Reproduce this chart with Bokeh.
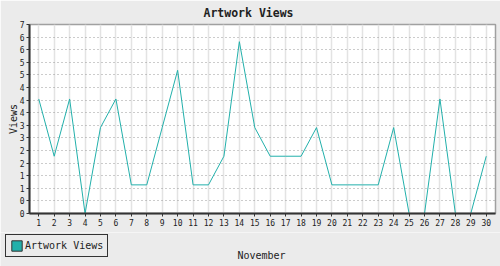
import numpy as np
from bokeh.plotting import figure
from bokeh.layouts import column, row
from bokeh.models import ColumnDataSource, FixedTicker, Legend, LegendItem, Label
from bokeh.embed import file_html
from bokeh.resources import INLINE

# ---- data ----
days = list(range(1, 31))
views = [4, 2, 4, 0, 3, 4, 1, 1, 3, 5, 1, 1, 2, 6, 3, 2, 2, 2, 3, 1, 1, 1, 1, 3, 0, 0, 4, 0, 0, 2]
y_tick_labels = ["0", "0", "1", "1", "2", "2", "3", "3", "4", "4", "4", "5", "5", "6", "6", "7"]
y_max = 6.6
series_name = "Artwork Views"
title_text = "Artwork Views"
x_label = "November"
y_label = "Views"

FONT = "DejaVu Sans Mono"
TEAL = "#22b0ab"
TXT = "#222222"
BG = "#ebebeb"

# ---- main chart ----
p = figure(width=500, height=232, output_backend="svg", toolbar_location=None,
           x_range=(0.4, 30.6), y_range=(0, y_max),
           min_border_left=29, min_border_right=5, min_border_top=24, min_border_bottom=19)

p.background_fill_color = "#ffffff"
p.border_fill_color = BG
p.outline_line_color = "#a0a0a0"
p.outline_line_width = 1.5

src = ColumnDataSource(dict(day=days, views=views))
p.line("day", "views", source=src, line_color=TEAL, line_width=1)

y_ticks = list(np.linspace(0, y_max, len(y_tick_labels)))
p.yaxis.ticker = FixedTicker(ticks=y_ticks)
p.yaxis.major_label_overrides = {float(t): l for t, l in zip(y_ticks, y_tick_labels)}
p.xaxis.ticker = FixedTicker(ticks=days)

for ax in (p.xaxis[0], p.yaxis[0]):
    ax.axis_line_color = "#333333"
    ax.axis_line_width = 2
    ax.major_tick_line_color = "#333333"
    ax.major_tick_out = 3
    ax.major_tick_in = 0
    ax.minor_tick_line_color = None
    ax.major_label_text_font = FONT
    ax.major_label_text_font_size = "8px"
    ax.major_label_text_color = TXT
    ax.major_label_standoff = 2
    ax.axis_label_text_font = FONT
    ax.axis_label_text_font_size = "10px"
    ax.axis_label_text_font_style = "normal"
    ax.axis_label_text_color = TXT

p.yaxis.axis_label = y_label
p.yaxis.axis_label_standoff = -2

p.xgrid.grid_line_color = "#e3e3e3"
p.xgrid.grid_line_width = 1.5
p.ygrid.grid_line_color = "#999999"
p.ygrid.grid_line_width = 1
p.ygrid.grid_line_dash = "1 3"

p.title.text = title_text
p.title.align = "left"
p.title.offset = 174
p.title.vertical_align = "middle"
p.title.text_font = FONT
p.title.text_font_size = "11.5px"
p.title.text_font_style = "bold"
p.title.text_color = TXT
p.title.standoff = 8

# ---- bottom strip: legend + x-axis label ----
q = figure(width=500, height=34, output_backend="svg", toolbar_location=None,
           x_range=(0, 500), y_range=(0, 34), x_axis_type=None, y_axis_type=None,
           min_border=0, min_border_left=0, min_border_right=0,
           min_border_top=0, min_border_bottom=0)
q.border_fill_color = BG
q.background_fill_color = BG
q.outline_line_color = None
q.xgrid.visible = False
q.ygrid.visible = False

# legend swatch renderer (no visible geometry)
sw = q.quad(left=[np.nan], right=[np.nan], top=[np.nan], bottom=[np.nan],
            fill_color=TEAL, line_color="#333333", line_width=1)

legend = Legend(items=[LegendItem(label=series_name, renderers=[sw])],
                location=(5, 9), orientation="vertical",
                padding=4, margin=0, spacing=0,
                glyph_width=13, glyph_height=13, label_height=12, label_standoff=2,
                label_text_font=FONT, label_text_font_size="10px", label_text_color=TXT,
                border_line_color="#333333", border_line_width=1, border_line_alpha=1.0,
                background_fill_color=BG, background_fill_alpha=1.0)
q.add_layout(legend, "center")

q.add_layout(Label(x=261, y=11, text=x_label, text_align="center", text_baseline="middle",
                   text_font=FONT, text_font_size="10px", text_color=TXT))

layout = column(p, row(q), spacing=0)
open("out.html", "w").write(file_html(layout, INLINE))
